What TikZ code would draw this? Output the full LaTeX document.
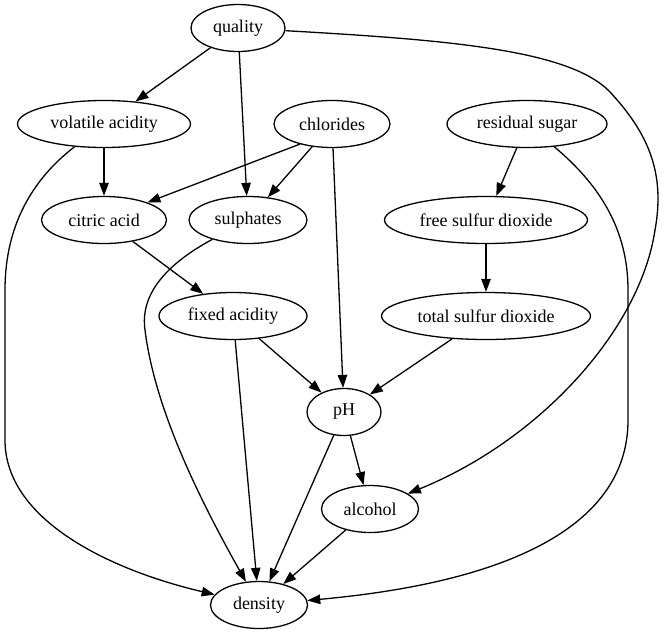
\documentclass[tikz,border=0pt]{standalone}
\usepackage{fontspec}
\setmainfont{Liberation Serif}
\usetikzlibrary{shapes.geometric,arrows.meta}
\begin{document}
\begin{tikzpicture}[x=1pt,y=-1pt,
  var/.style={ellipse,draw,line width=1.3pt,inner sep=0pt,minimum height=47pt,
              font=\fontsize{18}{22}\selectfont},
  edge/.style={line width=1.3pt,-{Triangle[length=13pt,width=9.5pt]}}]
\useasboundingbox (0,0) rectangle (666,635);

% variables, one rank per row
\node[var,minimum width=94pt]  (q)   at (238,28)  {quality};
\node[var,minimum width=173pt] (va)  at (104,124) {volatile acidity};
\node[var,minimum width=116pt] (chl) at (332,124) {chlorides};
\node[var,minimum width=160pt] (rs)  at (527,124) {residual sugar};
\node[var,minimum width=125pt] (ca)  at (104,220) {citric acid};
\node[var,minimum width=118pt] (sul) at (248,220) {sulphates};
\node[var,minimum width=203pt] (fsd) at (486,220) {free sulfur dioxide};
\node[var,minimum width=148pt] (fa)  at (233,316) {fixed acidity};
\node[var,minimum width=209pt] (tsd) at (486,316) {total sulfur dioxide};
\node[var,minimum width=74pt]  (ph)  at (344,412) {pH};
\node[var,minimum width=97pt]  (alc) at (370,509) {alcohol};
\node[var,minimum width=97pt]  (den) at (259,605) {density};

% straight dependencies
\draw[edge] (q) -- (va);
\draw[edge] (q) -- (sul);
\draw[edge] (va) -- (ca);
\draw[edge] (chl.212) -- (ca.22);
\draw[edge] (chl) -- (sul);
\draw[edge] (chl) -- (ph);
\draw[edge] (rs) -- (fsd);
\draw[edge] (ca) -- (fa);
\draw[edge] (fsd) -- (tsd);
\draw[edge] (fa) -- (ph);
\draw[edge] (fa) -- (den);
\draw[edge] (tsd) -- (ph);
\draw[edge] (ph) -- (alc);
\draw[edge] (ph) -- (den);
\draw[edge] (alc) -- (den);

% curved dependencies
\draw[edge] (q) .. controls (450,40) and (570,50) .. (610,92)
  .. controls (650,135) and (665,175) .. (655,230)
  .. controls (640,330) and (540,440) .. (alc);
\draw[edge] (va) .. controls (25,185) and (5,235) .. (5,290) -- (5,440)
  .. controls (5,520) and (110,570) .. (den);
\draw[edge] (rs) .. controls (600,185) and (628,230) .. (628,290) -- (628,420)
  .. controls (628,560) and (420,590) .. (den);
\draw[edge] (sul) .. controls (165,265) and (140,295) .. (145,330)
  .. controls (155,410) and (200,500) .. (den);
\end{tikzpicture}
\end{document}
